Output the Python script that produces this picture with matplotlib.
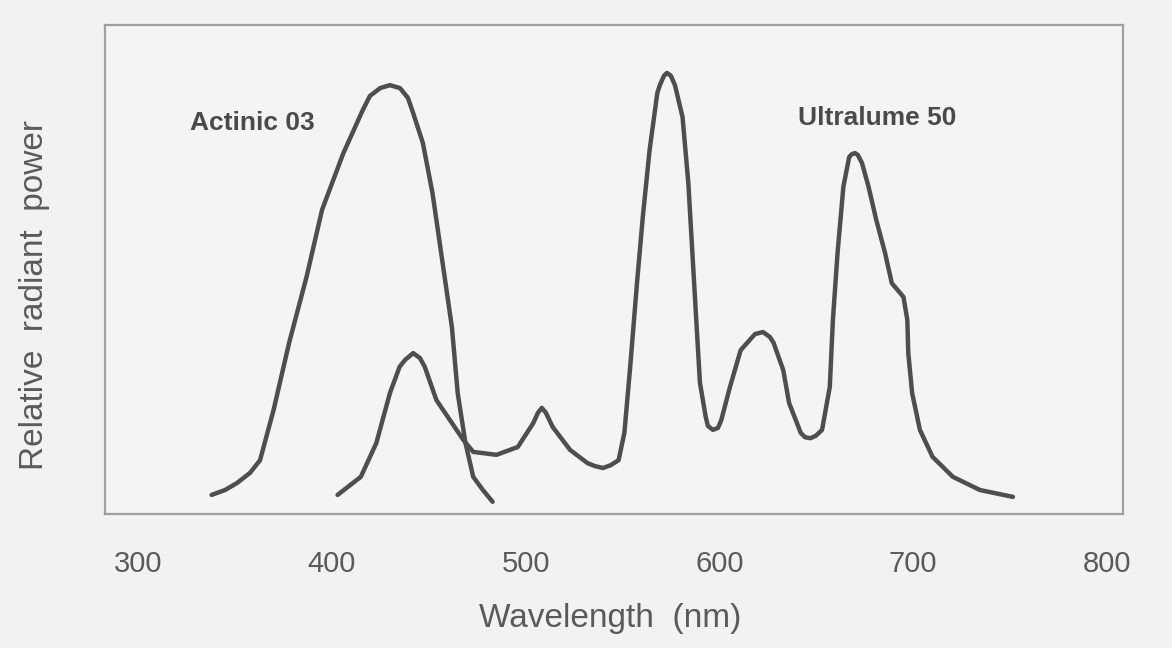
import matplotlib.pyplot as plt

# Actinic 03 spectrum (wavelength nm, relative power)
actinic_nm = [338, 344.9, 351, 357.8, 363, 370, 378, 387, 395, 406, 416, 419.7, 425, 430, 435.2, 439.3, 442, 447,
              452, 457, 462, 465, 469, 473, 478, 483]
actinic_pw = [0.039, 0.049, 0.063, 0.084, 0.110, 0.213, 0.350, 0.485, 0.622, 0.738, 0.826, 0.855, 0.871, 0.877,
              0.871, 0.851, 0.820, 0.759, 0.656, 0.519, 0.382, 0.247, 0.145, 0.076, 0.049, 0.025]

# Ultralume 50 spectrum
ultra_nm = [403, 415, 423, 430, 435, 437.8, 442, 445.5, 448, 454, 461, 468, 473, 485, 496, 504, 506.4, 508.4, 510.5,
            514, 523, 532, 535.8, 540, 544, 548, 551, 554, 557.5, 560.5, 564, 568, 569.3, 571.4, 573, 575, 577.1,
            581, 584, 586, 588, 590, 593, 594.1, 596.7, 599.3, 601, 605.5, 611, 618.4, 622.5, 626.1, 628, 633, 636,
            642, 644.2, 647, 649.8, 653, 657, 658.6, 661, 664, 667, 668.4, 670, 671.5, 673.6, 677, 681, 685.5, 689,
            695, 697, 697.5, 699.5, 703.5, 710, 720.5, 734.5, 751.5]
ultra_pw = [0.039, 0.076, 0.145, 0.247, 0.301, 0.315, 0.329, 0.319, 0.301, 0.233, 0.192, 0.151, 0.127, 0.121, 0.137,
            0.186, 0.207, 0.217, 0.207, 0.178, 0.131, 0.104, 0.098, 0.094, 0.100, 0.110, 0.166, 0.301, 0.472, 0.607,
            0.744, 0.861, 0.877, 0.896, 0.902, 0.896, 0.877, 0.812, 0.677, 0.540, 0.403, 0.268, 0.198, 0.180, 0.172,
            0.176, 0.192, 0.260, 0.335, 0.368, 0.372, 0.362, 0.350, 0.294, 0.227, 0.166, 0.157, 0.155, 0.160, 0.172,
            0.260, 0.397, 0.534, 0.669, 0.730, 0.736, 0.738, 0.734, 0.718, 0.669, 0.601, 0.534, 0.472, 0.444, 0.397,
            0.329, 0.247, 0.172, 0.117, 0.076, 0.049, 0.035]

xticks = [300, 400, 500, 600, 700, 800]

plt.rcParams['font.family'] = ['Liberation Sans', 'DejaVu Sans']
fig = plt.figure(figsize=(11.72, 6.48), dpi=100, facecolor='#f2f2f2')
ax = fig.add_axes([0.0896, 0.2068, 0.8686, 0.7546])
ax.set_facecolor('#f4f4f4')

line_c = '#4e4e4e'
ax.plot(actinic_nm, actinic_pw, color=line_c, lw=3.2, solid_joinstyle='round', solid_capstyle='round')
ax.plot(ultra_nm, ultra_pw, color=line_c, lw=3.2, solid_joinstyle='round', solid_capstyle='round')

ax.text(358.8, 0.80, 'Actinic 03', ha='center', va='center', fontsize=19, fontweight='bold', color='#4a4a4a')
ax.text(681.3, 0.81, 'Ultralume 50', ha='center', va='center', fontsize=19, fontweight='bold', color='#4a4a4a')

ax.set_xlim(283, 808.3)
ax.set_ylim(0, 1)
ax.set_xticks(xticks)
ax.set_yticks([])
ax.tick_params(axis='x', length=0, pad=26, labelsize=21, labelcolor='#5a5a5a')
for sp in ax.spines.values():
    sp.set_color('#a0a0a0')
    sp.set_linewidth(1.6)

ax.set_xlabel('Wavelength  (nm)', fontsize=24, color='#5a5a5a')
ax.xaxis.set_label_coords(0.496, -0.182)
ax.set_ylabel('Relative  radiant  power', fontsize=24, color='#5a5a5a')
ax.yaxis.set_label_coords(-0.054, 0.448)

plt.savefig('out.png', dpi=100, facecolor=fig.get_facecolor())
